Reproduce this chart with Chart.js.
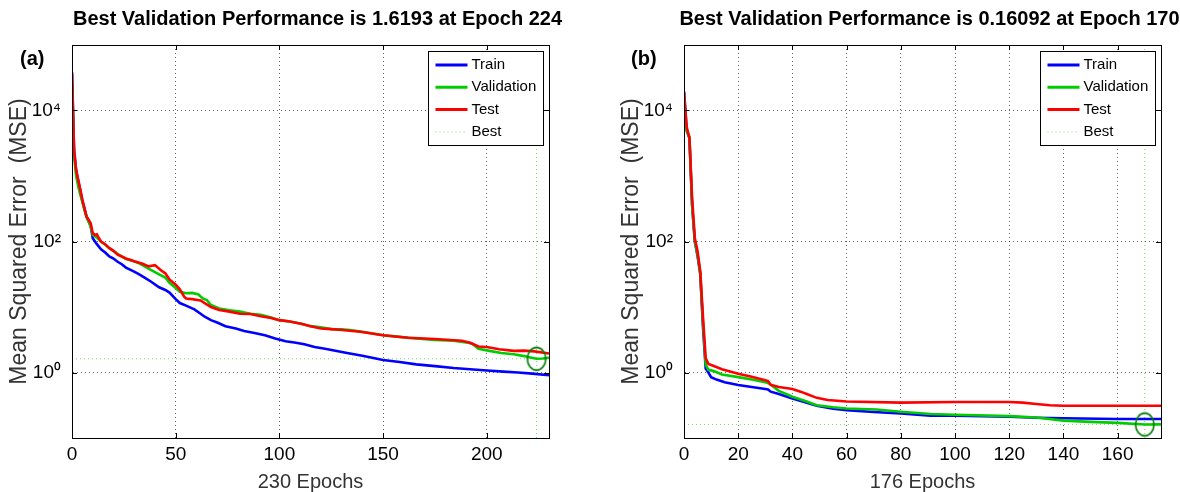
<!DOCTYPE html>
<html lang="en">
<head>
<meta charset="UTF-8">
<title>Neural network training performance</title>
<script src="https://cdn.jsdelivr.net/npm/chart.js"></script>
<style>
    body { margin: 0; background: #fff; }
    .panel { position: absolute; top: 0; width: 590px; height: 492px; }
    #panelA { left: 0; }
    #panelB { left: 590px; }
</style>
</head>
<body>
<div class="panel" id="panelA"><canvas id="perfA" width="590" height="492"></canvas></div>
<div class="panel" id="panelB"><canvas id="perfB" width="590" height="492"></canvas></div>

<script>
// ---- run (a): 230 epochs, best validation at epoch 224 ----
const trainEpochsA = [0,1,2,3,4,5,6,7,8,9,10,12,14,16,18,20,22,24,26,29,32,35,38,42,45,47,50,52,55,59,62,64,67,70,74,79,83,88,93,98,103,108,112,117,122,127,132,140,150,158,166,175,184,192,200,208,215,222,230];
const trainMseA = [38000,2500,1200,850,600,420,320,240,205,175,112,91,76,68,59,55,49,45,40,36,32,28,24.5,20,18.2,16.6,13.2,11.5,10.5,9.2,7.9,7.1,6.3,5.8,5.1,4.7,4.3,4.0,3.7,3.3,3.0,2.85,2.7,2.45,2.3,2.15,2.0,1.8,1.55,1.45,1.33,1.25,1.17,1.12,1.07,1.03,1.0,0.96,0.91];

const valEpochsA = [0,1,2,3,4,5,6,7,8,9,10,12,14,16,18,20,22,24,26,29,32,35,38,42,45,47,50,52,55,58,61,63,65,67,71,76,81,86,91,96,100,105,110,115,120,125,130,134,140,150,158,166,175,184,191,193,196,202,207,213,218,221,224,227,230];
const valMseA = [25000,2000,1000,700,520,400,300,240,200,170,126,115,100,89,79,72,65,59,54,51,47,41.7,37,31.6,28.2,23.4,19.5,17.1,16.2,16.4,15.5,13.5,12.8,10.7,9.5,8.9,8.5,7.9,7.6,6.9,6.3,6.0,5.6,5.1,4.9,4.6,4.55,4.45,4.2,3.7,3.5,3.3,3.15,3.05,2.85,2.75,2.3,2.12,1.99,1.9,1.78,1.7,1.6193,1.64,1.68];

const testEpochsA = [0,1,2,3,4,5,6,7,8,9,10,11,12,13,14,16,18,20,22,24,26,28,30,34,37,40,43,45,47,50,52,54,55,58,62,64,67,71,76,81,86,91,96,100,105,111,115,120,125,129,134,139,150,162,175,188,192,196,200,206,213,218,223,230];
const testMseA = [38000,2500,1230,870,620,430,320,240,215,190,135,126,129,112,100,91,79,72,63,59,55,52.5,50,45.7,41.7,43.6,36,32.7,26.3,21.9,18.6,14.5,13.5,13.2,12.6,11.5,10.0,9.0,8.5,7.9,7.8,7.2,6.8,6.3,6.0,5.5,5.1,4.7,4.6,4.5,4.35,4.2,3.7,3.4,3.25,3.05,2.85,2.5,2.45,2.27,2.14,2.16,2.1,1.95];

const bestEpochA = 224;
const bestMseA = 1.6193;
const xTicksA = [0, 50, 100, 150, 200];

// ---- run (b): 176 epochs, best validation at epoch 170 ----
const trainEpochsB = [0,1,2,3,4,5,6,7,8,9,10,12,15,20,25,30,31,32,35,40,45,49,55,60,70,80,91,100,120,130,140,160,176];
const trainMseB = [19500,5000,3800,355,100,60,32,5.0,1.15,1.0,0.85,0.78,0.71,0.645,0.60,0.56,0.55,0.51,0.47,0.40,0.347,0.31,0.28,0.266,0.25,0.237,0.219,0.219,0.211,0.204,0.20,0.195,0.195];

const valEpochsB = [0,1,2,3,4,5,6,7,8,9,11,14,20,25,30,31,32,35,40,45,49,55,60,71,80,91,100,120,130,140,150,160,170,176];
const valMseB = [11500,4800,4000,350,100,63,32,5.8,1.32,1.10,1.05,0.93,0.85,0.78,0.71,0.69,0.65,0.525,0.427,0.363,0.316,0.295,0.282,0.272,0.251,0.232,0.226,0.216,0.206,0.184,0.176,0.170,0.16092,0.1612];

const testEpochsB = [0,1,2,3,4,5,6,7,8,9,11,14,20,25,30,31,32,35,40,43,46,49,53,60,80,100,120,125,130,135,140,160,176];
const testMseB = [19500,5600,3800,450,112,71,35,7.1,1.66,1.35,1.26,1.12,0.955,0.86,0.76,0.74,0.65,0.60,0.56,0.51,0.457,0.41,0.38,0.36,0.347,0.355,0.355,0.347,0.33,0.316,0.31,0.31,0.31];

const bestEpochB = 170;
const bestMseB = 0.16092;
const xTicksB = [0, 20, 40, 60, 80, 100, 120, 140, 160];

// shared log axis
const yTicks = [1, 100, 10000];
const yTickLabels = ['10\u2070', '10\u00b2', '10\u2074'];

const FONT = '"Liberation Sans", Arial, Helvetica, sans-serif';
const GRID = 'rgba(0,0,0,0.6)';
const BEST = 'rgba(0,190,0,0.55)';
Chart.defaults.font.family = FONT;

function series(xs, ys) {
    return xs.map((x, i) => ({ x: x, y: ys[i] }));
}

// green ellipse used to mark the best validation epoch
function ringMark() {
    const c = document.createElement('canvas');
    c.width = 22;
    c.height = 26;
    const g = c.getContext('2d');
    g.strokeStyle = '#007a00';
    g.lineWidth = 1.6;
    g.beginPath();
    g.ellipse(11, 13, 9.2, 11.4, 0, 0, Math.PI * 2);
    g.stroke();
    return c;
}

// frame, inward ticks, title, panel tag and boxed legend
const panelDecor = {
    id: 'panelDecor',
    afterDraw(chart, args, opts) {
        const { ctx, chartArea: a, scales } = chart;
        ctx.save();
        ctx.strokeStyle = '#000';
        ctx.lineWidth = 1;
        ctx.setLineDash([]);
        ctx.strokeRect(Math.round(a.left) + 0.5, Math.round(a.top) + 0.5,
                       Math.round(a.right - a.left), Math.round(a.bottom - a.top));

        ctx.beginPath();
        scales.y.ticks.forEach(t => {
            const py = Math.round(scales.y.getPixelForValue(t.value)) + 0.5;
            ctx.moveTo(a.left, py); ctx.lineTo(a.left + 5, py);
            ctx.moveTo(a.right - 5, py); ctx.lineTo(a.right, py);
        });
        scales.x.ticks.forEach(t => {
            const px = Math.round(scales.x.getPixelForValue(t.value)) + 0.5;
            ctx.moveTo(px, a.bottom); ctx.lineTo(px, a.bottom - 5);
            ctx.moveTo(px, a.top); ctx.lineTo(px, a.top + 5);
        });
        ctx.stroke();

        ctx.fillStyle = '#000';
        ctx.font = 'bold 20px ' + FONT;
        ctx.textBaseline = 'middle';
        ctx.textAlign = 'center';
        ctx.fillText(opts.title, (a.left + a.right) / 2 + 7, 19);
        ctx.textAlign = 'left';
        ctx.fillText(opts.tag, opts.tagX, 59);

        // legend box
        const items = chart.data.datasets.filter(d => d.label);
        const bw = 115, bh = 94;
        const bx = Math.round(a.right - 6 - bw) + 0.5;
        const by = Math.round(a.top + 6) + 0.5;
        ctx.fillStyle = '#fff';
        ctx.fillRect(bx, by, bw, bh);
        ctx.strokeStyle = '#000';
        ctx.strokeRect(bx, by, bw, bh);
        ctx.font = '15px ' + FONT;
        items.forEach((d, i) => {
            const ry = by + 13.5 + i * 22.3;
            ctx.beginPath();
            ctx.strokeStyle = d.borderColor;
            ctx.lineWidth = d.borderDash ? 1 : 3;
            ctx.setLineDash(d.borderDash || []);
            ctx.moveTo(bx + 7, ry);
            ctx.lineTo(bx + 39, ry);
            ctx.stroke();
            ctx.setLineDash([]);
            ctx.fillStyle = '#000';
            ctx.fillText(d.label, bx + 43, ry);
        });
        ctx.restore();
    }
};

function buildPanel(canvasId, p) {
    return new Chart(document.getElementById(canvasId), {
        type: 'line',
        data: {
            datasets: [
                { label: 'Train', data: series(p.trainX, p.trainY), borderColor: '#0000ff', order: 3 },
                { label: 'Validation', data: series(p.valX, p.valY), borderColor: '#00cc00', order: 2 },
                { label: 'Test', data: series(p.testX, p.testY), borderColor: '#ff0000', order: 1 },
                { label: 'Best', data: [{ x: 0, y: p.bestY }, { x: p.maxEpoch, y: p.bestY }],
                  borderColor: BEST, borderWidth: 1, borderDash: [1, 3], order: 4 },
                { label: '', data: [{ x: p.bestX, y: 0.1 }, { x: p.bestX, y: 1e5 }],
                  borderColor: BEST, borderWidth: 1, borderDash: [1, 3], order: 4 },
                { label: '', data: [{ x: p.bestX, y: p.bestY }], showLine: false,
                  pointRadius: 10, pointStyle: ringMark(), order: 0 }
            ]
        },
        options: {
            responsive: false,
            animation: false,
            events: [],
            layout: { padding: { left: p.padLeft, right: p.padRight, top: 45, bottom: 0 } },
            elements: {
                line: { borderWidth: 2.6, tension: 0, fill: false },
                point: { radius: 0 }
            },
            plugins: {
                legend: { display: false },
                tooltip: { enabled: false },
                panelDecor: { title: p.title, tag: p.tag, tagX: p.tagX }
            },
            scales: {
                x: {
                    type: 'linear',
                    min: 0,
                    max: p.maxEpoch,
                    afterBuildTicks: s => { s.ticks = p.xTicks.map(v => ({ value: v })); },
                    afterFit: s => { s.height = 54; },
                    grid: { color: GRID, lineWidth: 1, drawTicks: false },
                    border: { display: true, color: '#000', width: 1, dash: [1, 3] },
                    ticks: { color: '#000', font: { size: 19 }, padding: 5, maxRotation: 0 },
                    title: { display: true, text: p.maxEpoch + ' Epochs', color: '#333',
                             font: { size: 20, lineHeight: 1 }, padding: { top: 0, bottom: 0 } }
                },
                y: {
                    type: 'logarithmic',
                    min: 0.1,
                    max: 1e5,
                    afterBuildTicks: s => { s.ticks = yTicks.map(v => ({ value: v })); },
                    afterFit: s => { s.width = 72; },
                    grid: { color: GRID, lineWidth: 1, drawTicks: false },
                    border: { display: true, color: '#000', width: 1, dash: [1, 3] },
                    ticks: { color: '#000', font: { size: 19 }, padding: 11,
                             callback: (v, i) => yTickLabels[i] },
                    title: { display: true, text: 'Mean Squared Error  (MSE)', color: '#333',
                             font: { size: 23, lineHeight: 1 }, padding: { top: 8, bottom: 0 } }
                }
            }
        },
        plugins: [panelDecor]
    });
}

buildPanel('perfA', {
    trainX: trainEpochsA, trainY: trainMseA,
    valX: valEpochsA, valY: valMseA,
    testX: testEpochsA, testY: testMseA,
    bestX: bestEpochA, bestY: bestMseA,
    maxEpoch: 230, xTicks: xTicksA,
    title: 'Best Validation Performance is 1.6193 at Epoch 224',
    tag: '(a)', tagX: 20, padLeft: 0, padRight: 41
});

buildPanel('perfB', {
    trainX: trainEpochsB, trainY: trainMseB,
    valX: valEpochsB, valY: valMseB,
    testX: testEpochsB, testY: testMseB,
    bestX: bestEpochB, bestY: bestMseB,
    maxEpoch: 176, xTicks: xTicksB,
    title: 'Best Validation Performance is 0.16092 at Epoch 170',
    tag: '(b)', tagX: 41, padLeft: 22, padRight: 19
});
</script>
</body>
</html>
